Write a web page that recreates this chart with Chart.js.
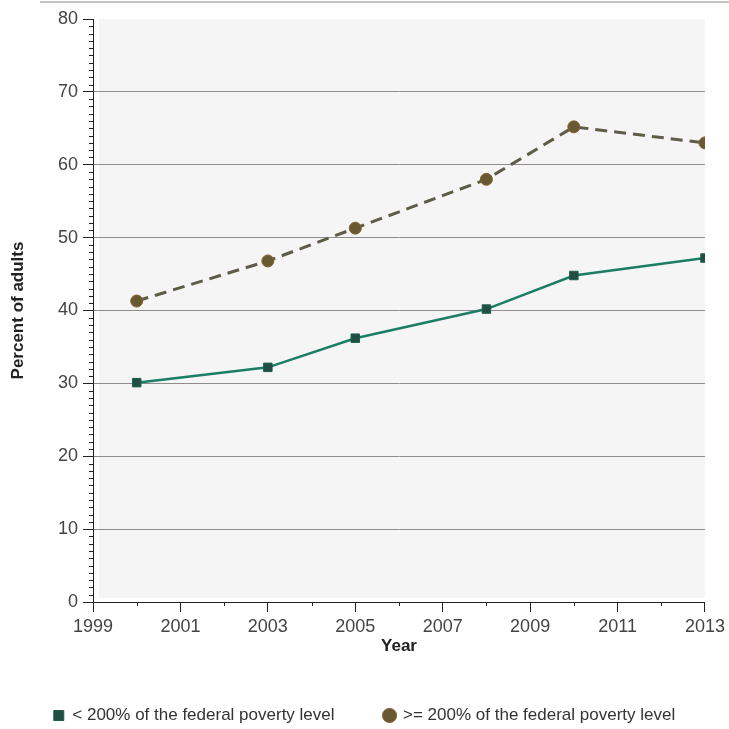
<!DOCTYPE html>
<html>
<head>
<meta charset="utf-8">
<script src="https://cdn.jsdelivr.net/npm/chart.js@4/dist/chart.umd.min.js"></script>
<style>
  html, body { margin: 0; padding: 0; background: #fff; }
  #wrap { width: 729px; height: 729px; }
</style>
</head>
<body>
<div id="wrap"><canvas id="line-chart" width="729" height="729"></canvas></div>
<script>
// data
const years = [2000, 2003, 2005, 2008, 2010, 2013];
const below200 = [30.1, 32.2, 36.2, 40.2, 44.8, 47.2];
const above200 = [41.3, 46.8, 51.3, 58.0, 65.2, 63.0];
const seriesNames = ['< 200% of the federal poverty level', '>= 200% of the federal poverty level'];
const yTicks = [0, 10, 20, 30, 40, 50, 60, 70, 80];
const xTicks = [1999, 2001, 2003, 2005, 2007, 2009, 2011, 2013];

const fontFam = '"Liberation Sans", Arial, sans-serif';

// plot background, top rule and minor ticks
const decor = {
  id: 'decor',
  beforeDraw(chart) {
    const c = chart.ctx, a = chart.chartArea;
    c.save();
    c.strokeStyle = '#c4c4c4';
    c.lineWidth = 2;
    c.beginPath();
    c.moveTo(40, 2);
    c.lineTo(729, 2);
    c.stroke();
    c.fillStyle = '#f5f5f5';
    c.fillRect(a.left + 6, a.top, a.right - a.left - 6, a.bottom - a.top - 4);
    c.restore();
  },
  afterDraw(chart) {
    const c = chart.ctx, a = chart.chartArea;
    const ys = chart.scales.y, xs = chart.scales.x;
    c.save();
    c.strokeStyle = '#222';
    c.lineWidth = 1;
    c.beginPath();
    for (let v = 0; v <= 80; v++) {
      if (v % 10 === 0) continue;
      const py = Math.round(ys.getPixelForValue(v)) + 0.5;
      c.moveTo(a.left - 4, py);
      c.lineTo(a.left, py);
    }
    for (let yr = 2000; yr <= 2012; yr += 2) {
      const px = Math.round(xs.getPixelForValue(yr)) + 0.5;
      c.moveTo(px, a.bottom);
      c.lineTo(px, a.bottom + 4);
    }
    c.stroke();
    c.restore();
  }
};

let ctx1 = document.getElementById('line-chart').getContext('2d');
var myChart1 = new Chart(ctx1, {
  type: 'line',
  data: {
    datasets: [{
      label: seriesNames[0],
      data: years.map((y, i) => ({x: y, y: below200[i]})),
      borderColor: '#1b7d64',
      borderWidth: 2.5,
      backgroundColor: '#214e42',
      pointStyle: 'rect',
      pointRadius: 6,
      pointBorderColor: '#1b5e4c',
      pointBorderWidth: 1,
      tension: 0
    }, {
      label: seriesNames[1],
      data: years.map((y, i) => ({x: y, y: above200[i]})),
      borderColor: '#5e5b47',
      borderWidth: 3,
      borderDash: [12, 7],
      backgroundColor: '#675a32',
      pointStyle: 'circle',
      pointRadius: 6,
      pointBorderColor: '#8a5f2c',
      pointBorderWidth: 1,
      tension: 0
    }]
  },
  options: {
    responsive: false,
    animation: false,
    layout: { padding: { left: 0, right: 0, top: 19, bottom: -5 } },
    plugins: {
      tooltip: { enabled: false },
      legend: {
        position: 'bottom',
        labels: {
          usePointStyle: true,
          boxWidth: 10,
          boxHeight: 10,
          padding: 50,
          color: '#333',
          font: { family: fontFam, size: 17 }
        }
      }
    },
    scales: {
      x: {
        type: 'linear',
        min: 1999,
        max: 2013,
        afterBuildTicks(scale) { scale.ticks = xTicks.map(v => ({value: v})); },
        afterFit(scale) { scale.height = 55; },
        ticks: {
          color: '#444',
          padding: 4,
          font: { family: fontFam, size: 18 },
          callback: v => String(v)
        },
        grid: { drawOnChartArea: false, tickLength: 10, tickColor: '#222' },
        border: { display: true, color: '#222', width: 1 },
        title: {
          display: true,
          text: 'Year',
          color: '#222',
          padding: { top: 0, bottom: 0 },
          font: { family: fontFam, size: 17, weight: 'bold' }
        }
      },
      y: {
        min: 0,
        max: 80,
        afterBuildTicks(scale) { scale.ticks = yTicks.map(v => ({value: v})); },
        afterFit(scale) { scale.width = 93; },
        ticks: {
          color: '#444',
          padding: 5,
          font: { family: fontFam, size: 18 }
        },
        grid: {
          color: c => (c.tick && c.tick.value > 0 && c.tick.value < 80) ? '#8e8e8e' : 'rgba(0,0,0,0)',
          tickColor: '#222',
          tickLength: 10
        },
        border: { display: true, color: '#222', width: 1 },
        title: {
          display: true,
          text: 'Percent of adults',
          color: '#222',
          padding: { top: 8, bottom: 0 },
          font: { family: fontFam, size: 17, weight: 'bold' }
        }
      }
    }
  },
  plugins: [decor]
});
</script>
</body>
</html>
